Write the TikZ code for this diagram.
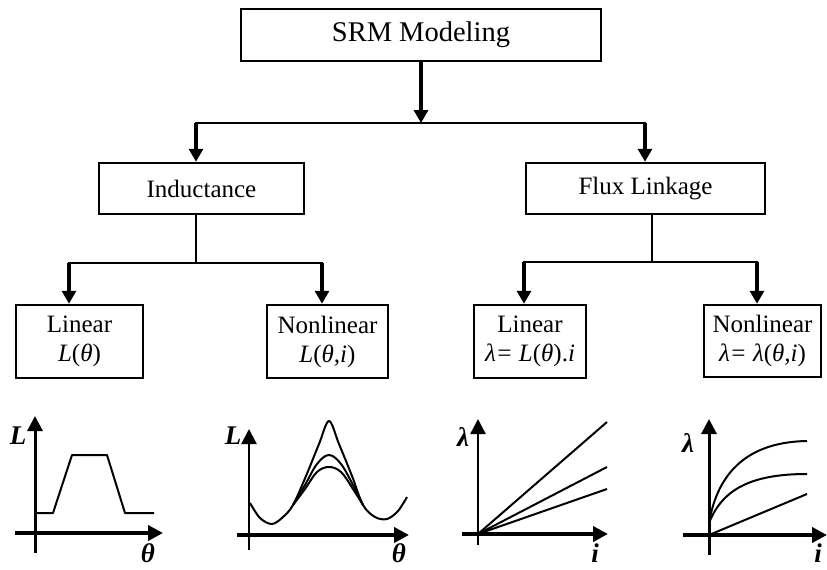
\documentclass[tikz,border=0pt]{standalone}
\usepackage{fontspec}
\setmainfont{Liberation Serif}
\usetikzlibrary{arrows.meta}
\begin{document}
\begin{tikzpicture}[x=1pt,y=-1pt,
  box/.style={draw, line width=2.5pt, inner sep=0pt, align=center, font=\fontsize{25}{29}\selectfont},
  arr/.style={line width=3.2pt, -{Triangle[length=13pt,width=14pt]}},
  stem/.style={line width=2.3pt},
  hline/.style={line width=2.7pt, line cap=rect},
  axis/.style={line width=3.8pt, -{Triangle[length=15pt,width=15pt]}},
  thinaxis/.style={line width=2.4pt, -{Triangle[length=15pt,width=15pt]}},
  curve/.style={line width=2pt, line join=round},
  lbl/.style={font=\fontsize{27}{27}\selectfont\bfseries\itshape, inner sep=0pt}]
\useasboundingbox (0,0) rectangle (827,570);

% boxes
\node[box, minimum width=360pt, minimum height=52pt, font=\fontsize{28.5}{30}\selectfont] (srm) at (421,35) {SRM Modeling};
\node[box, minimum width=205pt, minimum height=51pt] (ind) at (201.5,188.5) {Inductance};
\node[box, minimum width=239pt, minimum height=51pt] (flux) at (645.5,188.5) {Flux Linkage};
\node[box, minimum width=127pt, minimum height=73pt] (lin1) at (79.5,341.5) {Linear\\\textit{L}(\textit{θ})};
\node[box, minimum width=121pt, minimum height=73pt] (non1) at (327.5,341.5) {Nonlinear\\\textit{L}(\textit{θ,i})};
\node[box, minimum width=112pt, minimum height=73pt] (lin2) at (530,341.5) {Linear\\\textit{λ= L}(\textit{θ}).\textit{i}};
\node[box, minimum width=117pt, minimum height=72pt] (non2) at (762.5,341) {Nonlinear\\\textit{λ= λ}(\textit{θ,i})};

% top level connectors
\coordinate (j0) at (421,123);
\coordinate (a0) at (196,123);
\coordinate (b0) at (645,123);
\draw[arr] (srm.south -| j0) -- (j0);
\draw[hline] (a0) -- (b0);
\draw[arr] (a0) -- (a0 |- ind.north);
\draw[arr] (b0) -- (b0 |- flux.north);

% inductance branch
\coordinate (j1) at (196,263);
\coordinate (a1) at (69,263);
\coordinate (b1) at (322,263);
\draw[stem] (ind.south -| j1) -- (j1);
\draw[hline] (a1) -- (b1);
\draw[arr] (a1) -- (a1 |- lin1.north);
\draw[arr] (b1) -- (b1 |- non1.north);

% flux branch
\coordinate (j2) at (652,262);
\coordinate (a2) at (524,262);
\coordinate (b2) at (757,262);
\draw[stem] (flux.south -| j2) -- (j2);
\draw[hline] (a2) -- (b2);
\draw[arr] (a2) -- (a2 |- lin2.north);
\draw[arr] (b2) -- (b2 |- non2.north);

% plot 1: linear inductance
\coordinate (p1xs) at (15,533); \coordinate (p1xe) at (163,533);
\coordinate (p1ys) at (35,553); \coordinate (p1ye) at (35,416);
\draw[axis] (p1xs) -- (p1xe);
\draw[thinaxis, line width=3pt] (p1ys) -- (p1ye);
\draw[curve] (35,513) -- (53,513) -- (72,455) -- (107,455) -- (125,513) -- (154,513);
\node[lbl] (p1L) at (18,436) {L};
\node[lbl] (p1t) at (148,553) {θ};

% plot 2: nonlinear inductance
\coordinate (p2xs) at (237,535); \coordinate (p2xe) at (409,535);
\coordinate (p2ys) at (249,550); \coordinate (p2ye) at (249,429);
\draw[axis] (p2xs) -- (p2xe);
\draw[thinaxis] (p2ys) -- (p2ye);
\draw[curve] plot[smooth, tension=0.55] coordinates {(250,503) (260,518) (272,524) (283,517) (293,505) (306,476) (319,444) (329,421) (339,444) (352,476) (363,505) (375,517) (387,519) (398,511) (407,497)};
\draw[curve] plot[smooth, tension=0.6] coordinates {(293,505) (305,485) (317,464) (329,455) (341,464) (353,485) (363,505)};
\draw[curve] plot[smooth, tension=0.6] coordinates {(293,505) (305,489) (317,472) (329,467) (341,472) (353,489) (363,505)};
\node[lbl] (p2L) at (233,436) {L};
\node[lbl] (p2t) at (399,553) {θ};

% plot 3: linear flux linkage
\coordinate (p3o) at (478,534);
\coordinate (p3xs) at (462,534); \coordinate (p3xe) at (608,534);
\coordinate (p3ys) at (478,545); \coordinate (p3ye) at (478,419);
\draw[axis] (p3xs) -- (p3xe);
\draw[thinaxis] (p3ys) -- (p3ye);
\draw[curve] (p3o) -- (607,422);
\draw[curve] (p3o) -- (607,467);
\draw[curve] (p3o) -- (607,489);
\node[lbl] (p3l) at (463,437) {λ};
\node[lbl] (p3i) at (595,553) {i};

% plot 4: nonlinear flux linkage
\coordinate (p4o) at (709,535);
\coordinate (p4xs) at (683,535); \coordinate (p4xe) at (827,535);
\coordinate (p4ys) at (709,555); \coordinate (p4ye) at (709,419);
\draw[axis] (p4xs) -- (p4xe);
\draw[thinaxis, line width=3pt] (p4ys) -- (p4ye);
\draw[curve] (709,523) .. controls (718,470) and (750,442) .. (807,441);
\draw[curve] (709,523) .. controls (722,490) and (750,474) .. (807,474);
\draw[curve] (p4o) -- (807,494);
\node[lbl] (p4l) at (688,443) {λ};
\node[lbl] (p4i) at (818,553) {i};
\end{tikzpicture}
\end{document}
